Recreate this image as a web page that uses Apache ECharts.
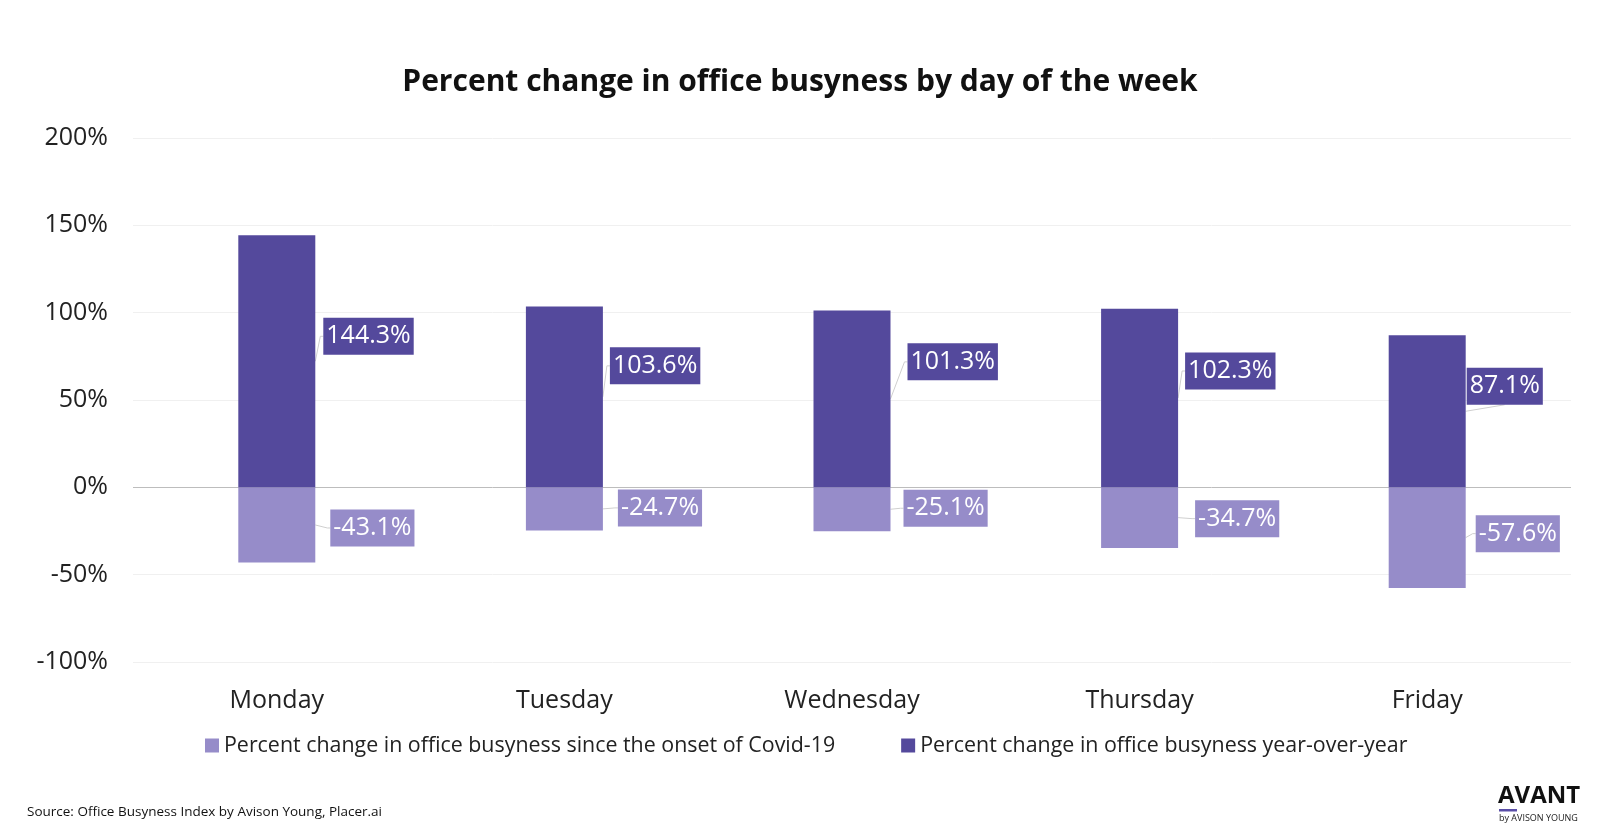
<!DOCTYPE html>
<html>
<head>
<meta charset="utf-8">
<script src="https://cdn.jsdelivr.net/npm/echarts@6/dist/echarts.min.js"></script>
<style>html,body{margin:0;padding:0;background:#fff;}#c{width:1600px;height:840px;}</style>
</head>
<body>
<div id="c"></div>
<script>
const categories = ['Monday', 'Tuesday', 'Wednesday', 'Thursday', 'Friday'];
const sinceCovid = [-43.1, -24.7, -25.1, -34.7, -57.6];
const yearOverYear = [144.3, 103.6, 101.3, 102.3, 87.1];
const seriesNames = ['Percent change in office busyness since the onset of Covid-19', 'Percent change in office busyness year-over-year'];
// label callout offsets (px) from default 'right' position
const yoyLabelOffsets = [[8, -25], [7, -31], [17, -37], [7, -27], [1, -25]];
const covidLabelOffsets = [[15, 3], [15, -1], [13, -1], [17, 1], [10, -4]];

const DARK = '#54499c';
const LIGHT = '#968cc9';
const FONT = '"Open Sans", "Noto Sans", sans-serif';
const BAR_W = 77;
const LABEL_H = 37;

const chart = echarts.init(document.getElementById('c'));
function labelCfg(color) {
  return {
    show: true, position: 'right', distance: 0,
    formatter: p => p.value.toFixed(1) + '%',
    color: '#fff', fontFamily: FONT, fontSize: 25, lineHeight: 25,
    backgroundColor: color, padding: [6, 3, 6, 3]
  };
}
function makeLayout(offsets) {
  return p => ({ dx: offsets[p.dataIndex][0], dy: offsets[p.dataIndex][1] });
}
// callout leader lines, built from the data + offsets
const leaderData = [];
categories.forEach((c, i) => {
  leaderData.push([i, yearOverYear[i], yoyLabelOffsets[i][0], yoyLabelOffsets[i][1]]);
  leaderData.push([i, sinceCovid[i], covidLabelOffsets[i][0], covidLabelOffsets[i][1]]);
});

chart.setOption({
  animation: false,
  textStyle: { fontFamily: FONT },
  title: {
    text: 'Percent change in office busyness by day of the week',
    left: 'center', top: 62,
    textStyle: { fontFamily: FONT, fontWeight: 'bold', fontSize: 30, color: '#111' }
  },
  grid: { left: 133, right: 29, top: 138, bottom: 178 },
  legend: {
    data: seriesNames, left: 200, top: 730, itemWidth: 14, itemHeight: 14, itemGap: 66,
    icon: 'rect',
    textStyle: { fontFamily: FONT, fontSize: 21.4, color: '#222' }
  },
  xAxis: {
    type: 'category', data: categories,
    axisLine: { show: false }, axisTick: { show: false },
    axisLabel: { fontFamily: FONT, fontSize: 25, color: '#222', margin: 26 }
  },
  yAxis: {
    type: 'value', min: -100, max: 200, interval: 50,
    axisLine: { show: false }, axisTick: { show: false },
    axisLabel: { formatter: v => v + '%', fontFamily: FONT, fontSize: 25, color: '#222', margin: 25 },
    splitLine: { lineStyle: { color: ['#f0f0f0', '#f0f0f0', '#bdbdbd', '#f0f0f0', '#f0f0f0', '#f0f0f0', '#f0f0f0'], width: 1 } }
  },
  series: [
    {
      name: 'leaders', type: 'custom', data: leaderData, z: 1, silent: true,
      encode: { x: 0, y: 1 },
      renderItem: function (params, api) {
        const i = api.value(0), v = api.value(1), dx = api.value(2), dy = api.value(3);
        const x0 = api.coord([i, v])[0] + BAR_W / 2;
        const yMid = api.coord([i, v / 2])[1];
        const lx = x0 + dx, ly = yMid + dy;
        let pts;
        if (dx >= 4) {
          pts = [[x0, yMid], [lx - 3, ly], [lx, ly]];
        } else {
          const ey = dy < 0 ? ly + LABEL_H / 2 : ly - LABEL_H / 2;
          pts = [[x0, yMid], [lx + 38, ey]];
        }
        return { type: 'polyline', shape: { points: pts }, style: { stroke: '#cfcfcf', lineWidth: 1, fill: null } };
      }
    },
    {
      name: seriesNames[0], type: 'bar', data: sinceCovid, barWidth: BAR_W, barGap: '-100%', z: 2,
      itemStyle: { color: LIGHT }, label: labelCfg(LIGHT),
      labelLayout: makeLayout(covidLabelOffsets)
    },
    {
      name: seriesNames[1], type: 'bar', data: yearOverYear, barWidth: BAR_W, barGap: '-100%', z: 2,
      itemStyle: { color: DARK }, label: labelCfg(DARK),
      labelLayout: makeLayout(yoyLabelOffsets)
    }
  ],
  graphic: [
    { type: 'text', left: 27, top: 805, style: { text: 'Source: Office Busyness Index by Avison Young, Placer.ai', font: '13.5px ' + FONT, fill: '#111' } },
    { type: 'text', left: 1498, top: 784, style: { text: 'AVANT', font: 'bold 24px ' + FONT, fill: '#111' } },
    { type: 'rect', shape: { x: 1499, y: 809, width: 18, height: 2.5 }, style: { fill: '#5a4ea8' } },
    { type: 'text', left: 1499, top: 814, style: { text: 'by AVISON YOUNG', font: '9px ' + FONT, fill: '#222' } }
  ]
});
</script>
</body>
</html>
